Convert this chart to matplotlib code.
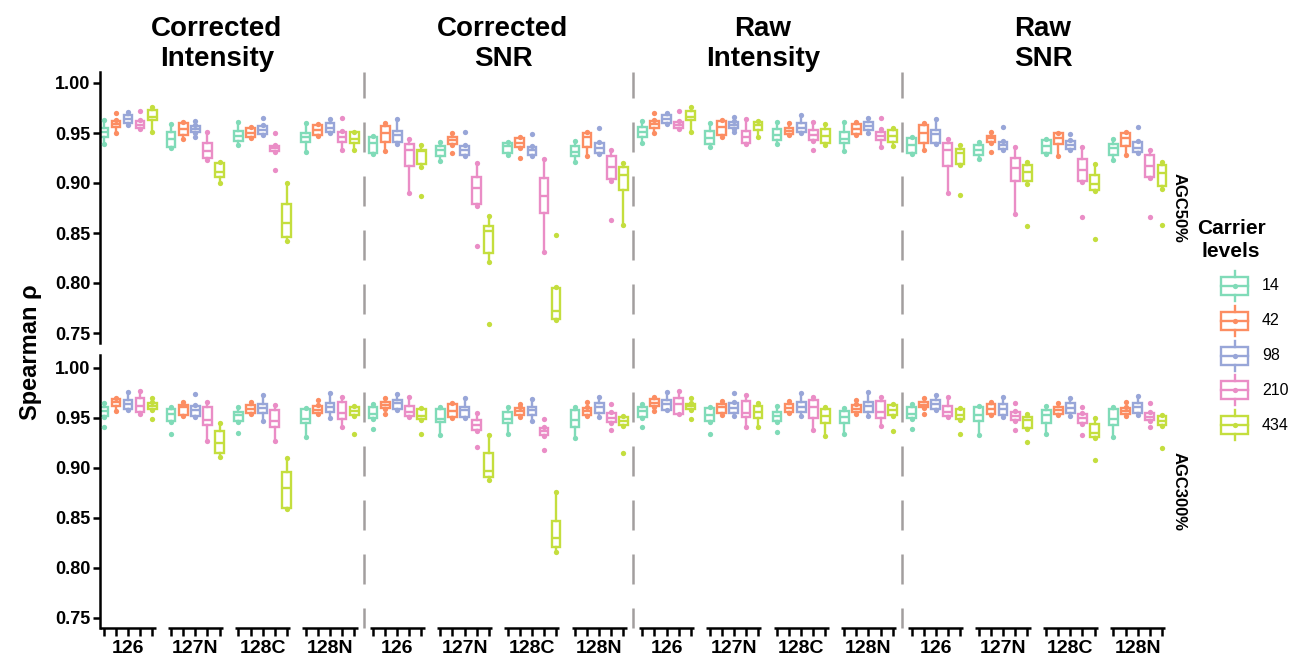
import matplotlib
matplotlib.use('Agg')
import matplotlib.pyplot as plt
import matplotlib.transforms as mtransforms
from matplotlib.patches import Rectangle
from matplotlib.lines import Line2D

plt.rcParams['font.family'] = ['Liberation Sans', 'DejaVu Sans']

# ---------------- data ----------------
methods = ['Corrected\nIntensity', 'Corrected\nSNR', 'Raw\nIntensity', 'Raw\nSNR']
channels = ['126', '127N', '128C', '128N']
carrier_levels = ['14', '42', '98', '210', '434']
agc_rows = ['AGC50%', 'AGC300%']
colors = ['#80dbb8', '#fc8d62', '#98a6d8', '#ea8dc6', '#c4de3e']

# each row: one method/channel group (16 groups), five carrier levels
# AGC50%
lo_50 = [
    [0.939, 0.950, 0.958, 0.954, 0.951], [0.935, 0.944, 0.950, 0.923, 0.900],
    [0.938, 0.945, 0.948, 0.931, 0.842], [0.931, 0.947, 0.950, 0.933, 0.933],
    [0.929, 0.932, 0.939, 0.890, 0.916], [0.922, 0.938, 0.927, 0.877, 0.821],
    [0.928, 0.935, 0.927, 0.831, 0.763], [0.921, 0.927, 0.929, 0.902, 0.858],
    [0.940, 0.950, 0.959, 0.954, 0.951], [0.936, 0.946, 0.954, 0.939, 0.946],
    [0.939, 0.948, 0.950, 0.942, 0.938], [0.932, 0.948, 0.950, 0.936, 0.937],
    [0.929, 0.933, 0.939, 0.890, 0.918], [0.924, 0.940, 0.933, 0.869, 0.899],
    [0.929, 0.927, 0.933, 0.901, 0.892], [0.923, 0.928, 0.930, 0.905, 0.894],
]
q1_50 = [
    [0.946, 0.956, 0.960, 0.955, 0.963], [0.936, 0.948, 0.951, 0.925, 0.906],
    [0.942, 0.946, 0.949, 0.932, 0.846], [0.941, 0.948, 0.951, 0.941, 0.940],
    [0.930, 0.941, 0.941, 0.917, 0.919], [0.927, 0.939, 0.928, 0.879, 0.830],
    [0.930, 0.936, 0.928, 0.870, 0.764], [0.927, 0.936, 0.930, 0.904, 0.893],
    [0.946, 0.955, 0.960, 0.955, 0.963], [0.939, 0.948, 0.955, 0.940, 0.953],
    [0.943, 0.949, 0.951, 0.943, 0.940], [0.940, 0.949, 0.953, 0.943, 0.941],
    [0.930, 0.940, 0.940, 0.917, 0.919], [0.928, 0.941, 0.934, 0.902, 0.902],
    [0.930, 0.939, 0.934, 0.902, 0.893], [0.928, 0.937, 0.931, 0.906, 0.897],
]
med_50 = [
    [0.951, 0.959, 0.964, 0.958, 0.966], [0.944, 0.954, 0.954, 0.932, 0.911],
    [0.947, 0.950, 0.953, 0.935, 0.860], [0.946, 0.953, 0.955, 0.946, 0.944],
    [0.940, 0.950, 0.948, 0.933, 0.932], [0.933, 0.943, 0.933, 0.895, 0.852],
    [0.937, 0.940, 0.933, 0.887, 0.772], [0.931, 0.946, 0.935, 0.916, 0.908],
    [0.951, 0.959, 0.964, 0.958, 0.966], [0.945, 0.956, 0.958, 0.946, 0.958],
    [0.948, 0.952, 0.955, 0.948, 0.947], [0.944, 0.954, 0.957, 0.947, 0.947],
    [0.938, 0.950, 0.949, 0.933, 0.930], [0.933, 0.945, 0.938, 0.915, 0.911],
    [0.937, 0.945, 0.938, 0.913, 0.899], [0.935, 0.945, 0.935, 0.917, 0.910],
]
q3_50 = [
    [0.955, 0.962, 0.968, 0.962, 0.973], [0.951, 0.960, 0.957, 0.940, 0.920],
    [0.952, 0.955, 0.957, 0.937, 0.879], [0.950, 0.958, 0.960, 0.951, 0.951],
    [0.946, 0.957, 0.952, 0.939, 0.933], [0.937, 0.946, 0.937, 0.906, 0.857],
    [0.940, 0.945, 0.936, 0.905, 0.795], [0.937, 0.950, 0.940, 0.927, 0.916],
    [0.956, 0.962, 0.968, 0.961, 0.972], [0.952, 0.962, 0.961, 0.952, 0.961],
    [0.954, 0.955, 0.960, 0.953, 0.954], [0.951, 0.959, 0.961, 0.951, 0.953],
    [0.945, 0.958, 0.953, 0.940, 0.934], [0.938, 0.947, 0.941, 0.925, 0.918],
    [0.943, 0.950, 0.942, 0.924, 0.908], [0.939, 0.950, 0.941, 0.928, 0.918],
]
hi_50 = [
    [0.963, 0.963, 0.971, 0.963, 0.976], [0.959, 0.961, 0.958, 0.951, 0.921],
    [0.961, 0.956, 0.958, 0.938, 0.900], [0.960, 0.959, 0.964, 0.952, 0.951],
    [0.947, 0.960, 0.964, 0.944, 0.938], [0.941, 0.950, 0.938, 0.920, 0.867],
    [0.941, 0.946, 0.937, 0.924, 0.796], [0.942, 0.951, 0.941, 0.933, 0.920],
    [0.962, 0.963, 0.970, 0.962, 0.976], [0.960, 0.963, 0.962, 0.964, 0.962],
    [0.961, 0.960, 0.968, 0.961, 0.959], [0.961, 0.961, 0.965, 0.954, 0.955],
    [0.946, 0.960, 0.964, 0.944, 0.938], [0.941, 0.951, 0.942, 0.936, 0.921],
    [0.944, 0.950, 0.943, 0.936, 0.919], [0.944, 0.951, 0.942, 0.933, 0.921],
]
# (group, level, value)
fliers_50 = [
    (0, 1, 0.970), (0, 3, 0.972), (1, 2, 0.962), (1, 2, 0.946), (2, 2, 0.965),
    (2, 3, 0.950), (2, 3, 0.913), (3, 3, 0.965), (4, 4, 0.887), (5, 1, 0.930),
    (5, 2, 0.951), (5, 3, 0.837), (5, 4, 0.759), (6, 1, 0.925), (6, 2, 0.949),
    (6, 4, 0.848), (7, 2, 0.955), (7, 3, 0.863), (8, 1, 0.970), (8, 3, 0.972),
    (9, 2, 0.966), (9, 2, 0.951), (10, 3, 0.933), (11, 3, 0.965), (12, 4, 0.888),
    (13, 1, 0.931), (13, 2, 0.956), (13, 4, 0.857), (14, 2, 0.949), (14, 3, 0.866),
    (14, 4, 0.844), (15, 2, 0.956), (15, 3, 0.866), (15, 4, 0.858),
]

# AGC300%
lo_300 = [
    [0.951, 0.957, 0.958, 0.954, 0.958], [0.946, 0.952, 0.951, 0.927, 0.911],
    [0.946, 0.954, 0.947, 0.927, 0.859], [0.931, 0.954, 0.950, 0.941, 0.952],
    [0.949, 0.959, 0.958, 0.951, 0.948], [0.933, 0.950, 0.950, 0.937, 0.888],
    [0.934, 0.951, 0.947, 0.932, 0.816], [0.930, 0.952, 0.951, 0.945, 0.942],
    [0.950, 0.961, 0.958, 0.954, 0.958], [0.946, 0.953, 0.952, 0.941, 0.941],
    [0.946, 0.955, 0.952, 0.938, 0.932], [0.934, 0.954, 0.952, 0.942, 0.952],
    [0.949, 0.960, 0.958, 0.951, 0.948], [0.933, 0.953, 0.951, 0.947, 0.939],
    [0.934, 0.953, 0.952, 0.944, 0.930], [0.931, 0.952, 0.953, 0.947, 0.942],
]
q1_300 = [
    [0.952, 0.962, 0.959, 0.956, 0.959], [0.947, 0.953, 0.952, 0.943, 0.915],
    [0.947, 0.955, 0.955, 0.941, 0.860], [0.945, 0.955, 0.956, 0.949, 0.953],
    [0.950, 0.960, 0.959, 0.952, 0.949], [0.946, 0.951, 0.951, 0.938, 0.891],
    [0.945, 0.953, 0.953, 0.933, 0.821], [0.941, 0.953, 0.955, 0.946, 0.943],
    [0.951, 0.962, 0.958, 0.954, 0.959], [0.947, 0.955, 0.955, 0.951, 0.950],
    [0.947, 0.956, 0.956, 0.950, 0.945], [0.945, 0.956, 0.956, 0.950, 0.953],
    [0.950, 0.961, 0.959, 0.952, 0.949], [0.947, 0.954, 0.953, 0.948, 0.940],
    [0.945, 0.954, 0.955, 0.945, 0.931], [0.943, 0.954, 0.955, 0.948, 0.943],
]
med_300 = [
    [0.957, 0.966, 0.964, 0.962, 0.962], [0.954, 0.961, 0.958, 0.948, 0.925],
    [0.953, 0.959, 0.960, 0.947, 0.880], [0.949, 0.958, 0.961, 0.955, 0.957],
    [0.954, 0.963, 0.965, 0.956, 0.952], [0.949, 0.957, 0.958, 0.943, 0.897],
    [0.949, 0.957, 0.958, 0.937, 0.830], [0.948, 0.957, 0.961, 0.950, 0.947],
    [0.957, 0.965, 0.964, 0.964, 0.962], [0.953, 0.961, 0.960, 0.955, 0.956],
    [0.952, 0.960, 0.961, 0.961, 0.952], [0.951, 0.959, 0.962, 0.956, 0.958],
    [0.954, 0.963, 0.964, 0.956, 0.953], [0.953, 0.959, 0.959, 0.952, 0.948],
    [0.953, 0.958, 0.960, 0.950, 0.935], [0.949, 0.957, 0.961, 0.951, 0.947],
]
q3_300 = [
    [0.961, 0.969, 0.968, 0.970, 0.965], [0.959, 0.963, 0.962, 0.961, 0.937],
    [0.956, 0.963, 0.964, 0.958, 0.896], [0.959, 0.962, 0.965, 0.966, 0.961],
    [0.961, 0.966, 0.968, 0.962, 0.959], [0.959, 0.964, 0.961, 0.948, 0.915],
    [0.956, 0.960, 0.961, 0.940, 0.847], [0.958, 0.960, 0.965, 0.955, 0.951],
    [0.961, 0.969, 0.968, 0.970, 0.964], [0.960, 0.964, 0.965, 0.967, 0.962],
    [0.956, 0.964, 0.966, 0.968, 0.959], [0.957, 0.963, 0.966, 0.967, 0.963],
    [0.961, 0.966, 0.968, 0.962, 0.959], [0.961, 0.964, 0.964, 0.956, 0.951],
    [0.958, 0.961, 0.965, 0.954, 0.944], [0.959, 0.960, 0.965, 0.955, 0.952],
]
hi_300 = [
    [0.965, 0.970, 0.976, 0.977, 0.966], [0.961, 0.966, 0.963, 0.966, 0.945],
    [0.961, 0.966, 0.973, 0.963, 0.910], [0.960, 0.963, 0.975, 0.971, 0.962],
    [0.964, 0.970, 0.974, 0.971, 0.960], [0.961, 0.965, 0.970, 0.955, 0.933],
    [0.961, 0.961, 0.969, 0.941, 0.876], [0.961, 0.961, 0.971, 0.956, 0.952],
    [0.964, 0.971, 0.976, 0.977, 0.965], [0.961, 0.967, 0.966, 0.973, 0.965],
    [0.962, 0.967, 0.975, 0.971, 0.961], [0.960, 0.964, 0.976, 0.971, 0.964],
    [0.964, 0.970, 0.973, 0.971, 0.960], [0.962, 0.966, 0.971, 0.957, 0.954],
    [0.962, 0.965, 0.970, 0.955, 0.950], [0.961, 0.961, 0.972, 0.956, 0.953],
]
fliers_300 = [
    (0, 0, 0.941), (0, 4, 0.970), (0, 4, 0.949), (1, 0, 0.934), (1, 2, 0.974),
    (2, 0, 0.935), (3, 1, 0.968), (3, 4, 0.934), (4, 0, 0.939), (4, 1, 0.954),
    (4, 4, 0.934), (5, 3, 0.921), (6, 1, 0.964), (6, 3, 0.949), (6, 3, 0.918),
    (7, 1, 0.966), (7, 3, 0.964), (7, 3, 0.938), (7, 4, 0.915), (8, 0, 0.941),
    (8, 1, 0.957), (8, 4, 0.970), (8, 4, 0.949), (9, 0, 0.934), (9, 2, 0.975),
    (10, 0, 0.936), (11, 1, 0.968), (11, 4, 0.937), (12, 0, 0.939), (12, 1, 0.954),
    (12, 4, 0.934), (13, 3, 0.965), (13, 3, 0.938), (13, 4, 0.926), (14, 3, 0.961),
    (14, 3, 0.933), (14, 4, 0.908), (15, 1, 0.966), (15, 3, 0.965), (15, 3, 0.941),
    (15, 4, 0.920),
]

rows_data = [
    (lo_50, q1_50, med_50, q3_50, hi_50, fliers_50),
    (lo_300, q1_300, med_300, q3_300, hi_300, fliers_300),
]

# ---------------- layout ----------------
W, H = 1290, 660
fig = plt.figure(figsize=(W / 100, H / 100), dpi=100)

def fx(px):
    return px / W

def fy(py):
    return 1 - py / H

ax_top = fig.add_axes([fx(100), fy(343), fx(1170) - fx(100), fy(72) - fy(343)])
ax_bot = fig.add_axes([fx(100), fy(628), fx(1170) - fx(100), fy(355) - fy(628)])
axes = [ax_top, ax_bot]
ylims = [(0.740, 1.011), (0.740, 1.013)]

n_groups = len(methods) * len(channels)
offset = 0.18
bw = 0.13
lw = 1.7

for r, ax in enumerate(axes):
    lo, q1, med, q3, hi, fl = rows_data[r]
    for k, c in enumerate(colors):
        stats = []
        pos = []
        for g in range(n_groups):
            stats.append(dict(med=med[g][k], q1=q1[g][k], q3=q3[g][k],
                              whislo=lo[g][k], whishi=hi[g][k], fliers=[]))
            pos.append(g + (k - 2) * offset)
        ax.bxp(stats, positions=pos, widths=bw, patch_artist=True,
               showcaps=False, showfliers=False,
               boxprops=dict(facecolor='white', edgecolor=c, linewidth=lw),
               medianprops=dict(color=c, linewidth=lw),
               whiskerprops=dict(color=c, linewidth=lw))
        ax.plot(pos, [lo[g][k] for g in range(n_groups)], 'o', color=c, ms=3.8, mec='none', zorder=4)
        ax.plot(pos, [hi[g][k] for g in range(n_groups)], 'o', color=c, ms=3.8, mec='none', zorder=4)
    for (g, k, v) in fl:
        ax.plot(g + (k - 2) * offset, v, 'o', color=colors[k], ms=3.8, mec='none', zorder=4)

    ax.set_xlim(-0.416, 15.48)
    ax.set_ylim(*ylims[r])
    for s in ['top', 'right', 'bottom']:
        ax.spines[s].set_visible(False)
    ax.spines['left'].set_linewidth(1.8)
    ax.set_yticks([0.75, 0.80, 0.85, 0.90, 0.95, 1.00])
    ax.set_yticklabels(['%.2f' % t for t in [0.75, 0.80, 0.85, 0.90, 0.95, 1.00]],
                       fontsize=13, fontweight='bold')
    ax.tick_params(axis='y', length=5, width=1.8, pad=2)
    ax.set_facecolor('none')

ax_top.set_xticks([])

# bottom axis: per-group segments with ticks at every box
all_pos = [g + (k - 2) * offset for g in range(n_groups) for k in range(5)]
ax_bot.set_xticks(all_pos)
ax_bot.set_xticklabels([''] * len(all_pos))
ax_bot.tick_params(axis='x', length=6, width=1.8, direction='out')
trans_b = mtransforms.blended_transform_factory(ax_bot.transData, ax_bot.transAxes)
for g in range(n_groups):
    left = max(g - 0.41, -0.416)
    ax_bot.plot([left, g + 0.41], [0, 0], transform=trans_b, clip_on=False,
                color='black', lw=1.8, solid_capstyle='butt')
    ax_bot.text(g, -0.075, channels[g % 4], transform=trans_b, ha='center', va='center',
                fontsize=14, fontweight='bold')

# dashed separators spanning both rows
trans_f = mtransforms.blended_transform_factory(ax_bot.transData, fig.transFigure)
for xs in [3.5, 7.5, 11.5]:
    ln = Line2D([xs, xs], [fy(72), fy(628)], transform=trans_f, color='#a29e9e',
                lw=1.8, linestyle=(1.6, (12, 9.6)), clip_on=False)
    fig.add_artist(ln)

# titles
for m, px in zip(methods, [217, 503, 763, 1043]):
    fig.text(fx(px), fy(44), m, ha='center', va='center', fontsize=20,
             fontweight='bold', linespacing=1.15)

fig.text(fx(30), fy(352), 'Spearman ρ', rotation=90, ha='center', va='center',
         fontsize=17, fontweight='bold')
fig.text(fx(1179), fy(208), agc_rows[0], rotation=-90, ha='center', va='center',
         fontsize=12, fontweight='bold')
fig.text(fx(1179), fy(492), agc_rows[1], rotation=-90, ha='center', va='center',
         fontsize=12, fontweight='bold')

# legend
ov = fig.add_axes([0, 0, 1, 1])
ov.set_xlim(0, W)
ov.set_ylim(H, 0)
ov.axis('off')
ov.text(1231, 240, 'Carrier\nlevels', ha='center', va='center', fontsize=15,
        fontweight='bold', linespacing=1.3)
for i, (lab, c) in enumerate(zip(carrier_levels, colors)):
    yc = 286 + i * 34.8
    ov.add_patch(Rectangle((1221, yc - 9), 27, 18, fill=False, ec=c, lw=lw))
    ov.plot([1221, 1248], [yc, yc], color=c, lw=lw)
    ov.plot([1234.5, 1234.5], [yc - 15, yc - 9], color=c, lw=lw)
    ov.plot([1234.5, 1234.5], [yc + 9, yc + 15], color=c, lw=lw)
    ov.plot([1234.5], [yc], 'o', color=c, ms=3.8, mec='none')
    ov.text(1262, yc, lab, ha='left', va='center', fontsize=11.5)

fig.savefig('out.png', dpi=100)
